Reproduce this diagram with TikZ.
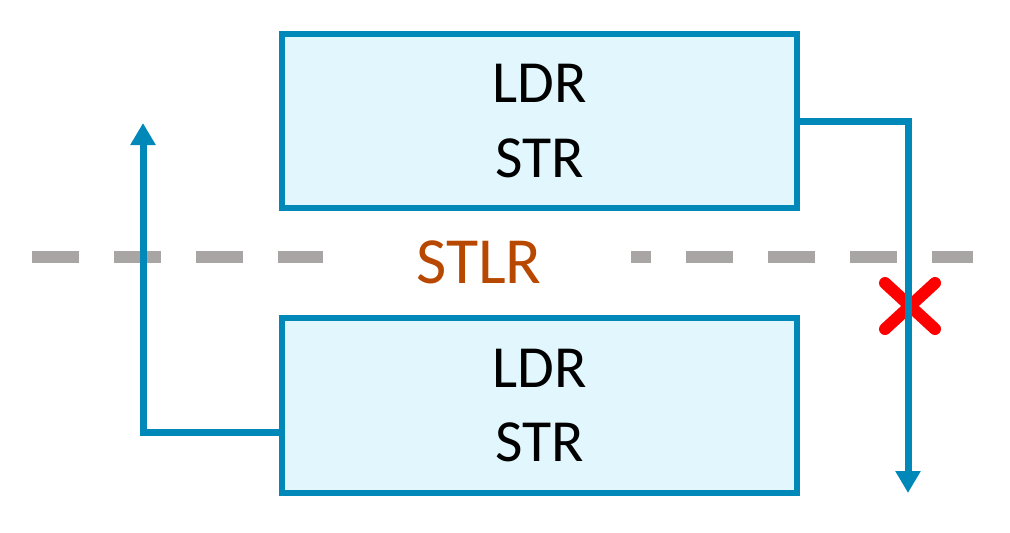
\documentclass[tikz,border=0pt]{standalone}
\usepackage{fontspec}
\setmainfont{Carlito}
\usetikzlibrary{arrows.meta,positioning}
\definecolor{linkblue}{HTML}{0088B9}
\definecolor{boxfill}{HTML}{E1F7FD}
\definecolor{fencegray}{HTML}{A9A5A4}
\definecolor{fenceorange}{HTML}{B84700}
\tikzset{
  membox/.style={draw=linkblue, fill=boxfill, line width=0.12cm,
    minimum width=10.3cm, minimum height=3.5cm, align=center,
    font=\fontsize{34}{42.5}\selectfont},
  flow/.style={draw=linkblue, line width=0.14cm,
    -{Triangle[width=0.48cm,length=0.44cm]}},
  fence/.style={draw=fencegray, line width=0.24cm, dash pattern=on 0.94cm off 0.70cm}
}
\begin{document}
\begin{tikzpicture}[x=0.02cm,y=-0.02cm]
\useasboundingbox (0,0) rectangle (1010,532);

% ===== Barrier =====
\draw[fence] (32,257) -- (323,257);
\draw[fence, dash phase=0.54cm] (631,257) -- (973,257);
\node[text=fenceorange, font=\fontsize{37.5}{45}\selectfont] (stlr) at (479,262) {STLR};

% ===== Blocked reorder mark =====
\draw[red, line width=0.24cm, line cap=round] (885,283) -- (935,329);
\draw[red, line width=0.24cm, line cap=round] (885,329) -- (935,283);

% ===== Boxes =====
\node[membox] (upper) at (539.5,121) {LDR\\STR};
\node[membox] (lower) at (539.5,405.5) {LDR\\STR};

% ===== Arrows =====
\coordinate (upTip) at (143,123);
\coordinate (downTip) at (908,493);
\draw[flow] ([yshift=-0.54cm]lower.west) -| (upTip);
\draw[flow] (upper.east) -| (downTip);

\end{tikzpicture}
\end{document}
